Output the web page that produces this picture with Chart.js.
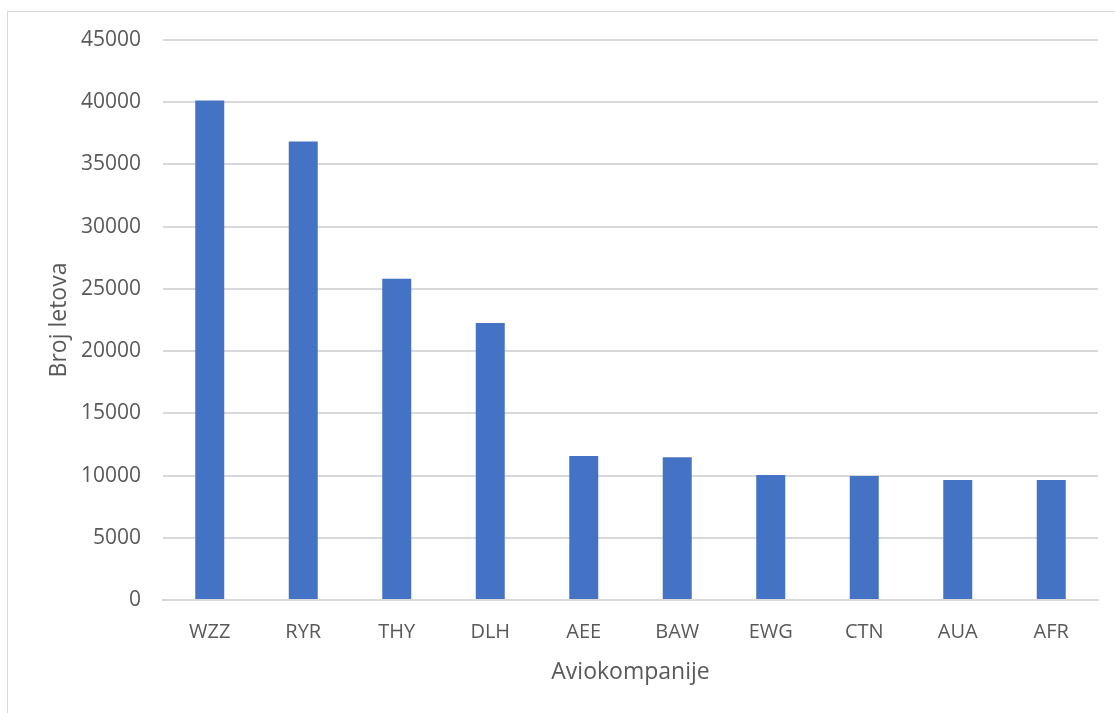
<!DOCTYPE html>
<html>
<head>
<meta charset="utf-8">
<title>Broj letova po aviokompanijama</title>
<script src="https://cdn.jsdelivr.net/npm/chart.js@4.4.1/dist/chart.umd.min.js"></script>
<style>
    html, body { margin: 0; padding: 0; background: #fff; }
    #wrap { position: relative; width: 1115px; height: 713px; overflow: hidden; }
    #frame {
        position: absolute; left: 7px; top: 11px; width: 1200px; height: 800px;
        border: 1px solid #d9d9d9; box-sizing: border-box;
    }
    #chart { position: absolute; left: 0; top: 0; }
</style>
</head>
<body>
<div id="wrap">
    <div id="frame"></div>
    <canvas id="chart" width="1115" height="713"></canvas>
</div>
<script>
// Data
const airlines = ['WZZ', 'RYR', 'THY', 'DLH', 'AEE', 'BAW', 'EWG', 'CTN', 'AUA', 'AFR'];
const flights = [40130, 36840, 25820, 22260, 11580, 11480, 10050, 9970, 9650, 9650];
const yTicks = [0, 5000, 10000, 15000, 20000, 25000, 30000, 35000, 40000, 45000];

const TEXT = '#595959';
const GRID = '#d9d9d9';
const FONT = "'Open Sans', 'Noto Sans', sans-serif";

const ctx = document.getElementById('chart').getContext('2d');

new Chart(ctx, {
    type: 'bar',
    data: {
        labels: airlines,
        datasets: [{
            label: 'Broj letova',
            data: flights,
            backgroundColor: '#4472c4',
            borderWidth: 0,
            barPercentage: 0.62,
            categoryPercentage: 0.5
        }]
    },
    options: {
        responsive: false,
        animation: false,
        layout: { padding: { left: 0, right: 17, top: 40, bottom: 0 } },
        plugins: {
            legend: { display: false },
            tooltip: { enabled: false }
        },
        scales: {
            x: {
                grid: { display: false, drawTicks: false },
                border: { display: true, color: GRID, width: 2 },
                ticks: { color: TEXT, font: { family: FONT, size: 20 }, padding: 20 },
                title: {
                    display: true, text: 'Aviokompanije', color: TEXT,
                    font: { family: FONT, size: 23 }, padding: { top: 0, bottom: 27 }
                },
                afterFit: scale => { scale.height = 113; }
            },
            y: {
                min: 0,
                max: 45000,
                afterBuildTicks: scale => { scale.ticks = yTicks.map(v => ({ value: v })); },
                grid: { color: GRID, lineWidth: 2, drawTicks: false },
                border: { display: false },
                ticks: {
                    color: TEXT, font: { family: FONT, size: 21 }, padding: 22,
                    callback: value => String(value)
                },
                title: {
                    display: true, text: 'Broj letova', color: TEXT,
                    font: { family: FONT, size: 23 }, padding: { top: 46, bottom: 0 }
                },
                afterFit: scale => { scale.width = 163; }
            }
        }
    }
});
</script>
</body>
</html>
